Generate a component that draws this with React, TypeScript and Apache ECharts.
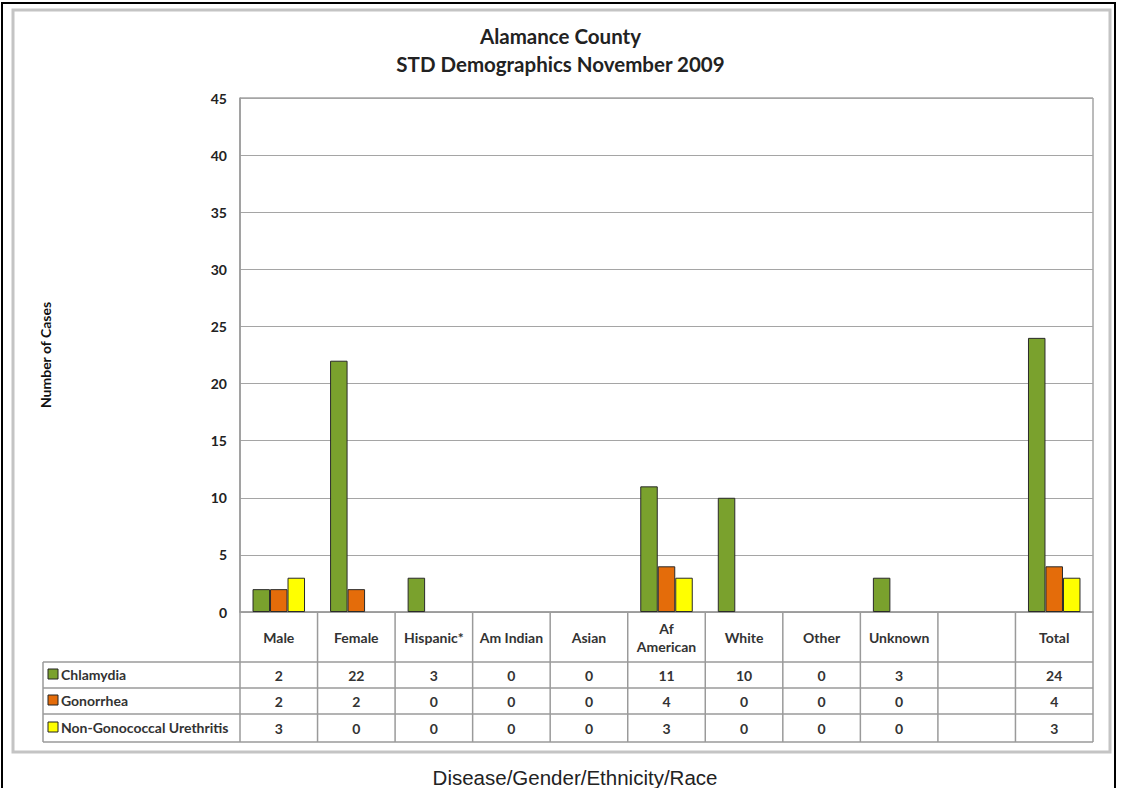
import React, { useEffect, useRef } from "react";
import * as echarts from "echarts";

const categories = ["Male", "Female", "Hispanic*", "Am Indian", "Asian", "Af\nAmerican", "White", "Other", "Unknown", "", "Total"];
const seriesNames = ["Chlamydia", "Gonorrhea", "Non-Gonococcal Urethritis"];
const chlamydia = [2, 22, 3, 0, 0, 11, 10, 0, 3, null, 24];
const gonorrhea = [2, 2, 0, 0, 0, 4, 0, 0, 0, null, 4];
const ngu = [3, 0, 0, 0, 0, 3, 0, 0, 0, null, 3];
const colors = ["#7AA12D", "#E46C0A", "#FFFF00"];
const yTicks = [0, 5, 10, 15, 20, 25, 30, 35, 40, 45];
const xAxisTitle = "Disease/Gender/Ethnicity/Race";

const FONT = "Lato, 'Open Sans', sans-serif";

export default function App() {
  const ref = useRef<HTMLDivElement>(null);
  useEffect(() => {
    document.body.style.margin = "0";
    const chart = echarts.init(ref.current!, null, { renderer: "svg" });
    const gl = 240, gt = 98, gw = 853, gh = 514;
    const gb = gt + gh;
    const n = categories.length;
    const colW = gw / n;
    const rowTops = [662, 688, 714, 742];
    const seriesData = [chlamydia, gonorrhea, ngu];
    const lineColor = "#9a9a9a";

    const graphics: any[] = [];
    graphics.push({ type: "rect", shape: { x: 2, y: 3, width: 1113, height: 800 }, style: { fill: "none", stroke: "#000", lineWidth: 2 }, silent: true });
    graphics.push({ type: "rect", shape: { x: 13, y: 10, width: 1097, height: 742 }, style: { fill: "none", stroke: "#c4c4c4", lineWidth: 3 }, silent: true });
    rowTops.forEach((y) => {
      graphics.push({ type: "line", shape: { x1: 43, y1: y, x2: gl + gw, y2: y }, style: { stroke: lineColor, lineWidth: 1.5 }, silent: true });
    });
    for (let i = 0; i <= n; i++) {
      const x = gl + i * colW;
      graphics.push({ type: "line", shape: { x1: x, y1: gb, x2: x, y2: rowTops[3] }, style: { stroke: lineColor, lineWidth: 1.5 }, silent: true });
    }
    graphics.push({ type: "line", shape: { x1: 43, y1: rowTops[0], x2: 43, y2: rowTops[3] }, style: { stroke: lineColor, lineWidth: 1.5 }, silent: true });
    seriesData.forEach((arr, r) => {
      const cy = (rowTops[r] + rowTops[r + 1]) / 2;
      graphics.push({ type: "rect", shape: { x: 48, y: cy - 6, width: 10, height: 10 }, style: { fill: colors[r], stroke: "#222", lineWidth: 1 }, silent: true });
      graphics.push({ type: "text", x: 61, y: cy - 1, style: { text: seriesNames[r], fontFamily: FONT, fontWeight: "bold", fontSize: 14, fill: "#333", verticalAlign: "middle", align: "left" }, silent: true });
      arr.forEach((v, i) => {
        if (v === null) return;
        graphics.push({ type: "text", x: gl + (i + 0.5) * colW, y: cy, style: { text: String(v), fontFamily: FONT, fontWeight: "bold", fontSize: 14, fill: "#333", align: "center", verticalAlign: "middle" }, silent: true });
      });
    });
    graphics.push({ type: "text", x: 575, y: 777, style: { text: xAxisTitle, fontFamily: "'Liberation Sans', Arial, sans-serif", fontSize: 20.5, fill: "#222", align: "center", verticalAlign: "middle" }, silent: true });

    chart.setOption({
      animation: false,
      backgroundColor: "#fff",
      title: {
        text: "Alamance County\nSTD Demographics November 2009",
        left: "center",
        top: 17,
        textStyle: { fontFamily: FONT, fontWeight: "bold", fontSize: 20.5, color: "#222", lineHeight: 28 },
      },
      grid: { left: gl, top: gt, width: gw, height: gh, show: true, borderColor: "#777", borderWidth: 1, backgroundColor: "transparent", outerBoundsMode: "none", containLabel: false },
      xAxis: {
        type: "category",
        data: categories,
        axisLine: { show: true, lineStyle: { color: lineColor, width: 1.5 } },
        axisTick: { show: false },
        axisLabel: { interval: 0, margin: 25, verticalAlign: "middle", fontFamily: FONT, fontWeight: "bold", fontSize: 14, color: "#333", lineHeight: 18 },
      },
      yAxis: {
        type: "value",
        min: 0,
        max: 45,
        interval: 5,
        name: "Number of Cases",
        nameLocation: "middle",
        nameGap: 188,
        nameRotate: 90,
        nameTextStyle: { fontFamily: FONT, fontWeight: "bold", fontSize: 14, color: "#111" },
        axisLine: { show: true, lineStyle: { color: lineColor, width: 1.5 } },
        axisTick: { show: false },
        axisLabel: { margin: 13, fontFamily: FONT, fontWeight: "bold", fontSize: 14, color: "#222", formatter: (v: number) => (yTicks.includes(v) ? String(v) : "") },
        splitLine: { lineStyle: { color: "#a5a5a5", width: 1 } },
      },
      series: seriesData.map((arr, i) => ({
        name: seriesNames[i],
        type: "bar",
        data: arr.map((v) => (v === 0 ? null : v)),
        barWidth: 17.5,
        barGap: "0%",
        itemStyle: { color: colors[i], borderColor: "#2a2a2a", borderWidth: 1 },
      })),
      graphic: graphics,
    });
    return () => chart.dispose();
  }, []);
  return <div ref={ref} style={{ width: 1121, height: 788 }} />;
}
